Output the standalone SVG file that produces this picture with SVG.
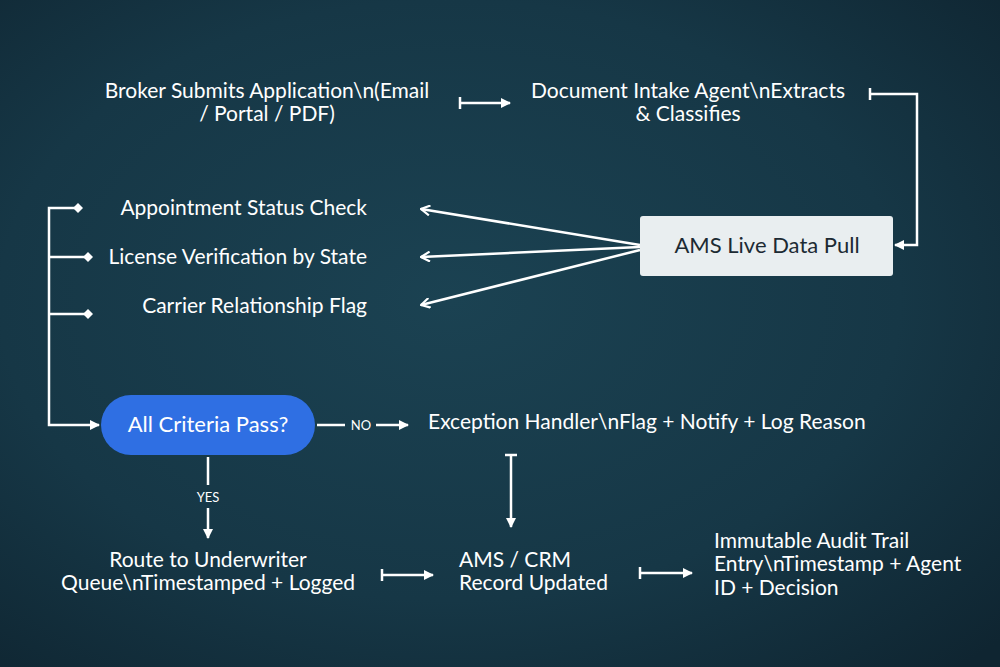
<svg xmlns="http://www.w3.org/2000/svg" width="1000" height="667" viewBox="0 0 1000 667">
<defs>
<radialGradient id="bg" cx="0.45" cy="0.45" r="0.75">
<stop offset="0" stop-color="#1b4252"/>
<stop offset="0.6" stop-color="#163746"/>
<stop offset="1" stop-color="#0f2531"/>
</radialGradient>
<marker id="ah" viewBox="0 0 10 10" refX="9" refY="5" markerWidth="10" markerHeight="10" markerUnits="userSpaceOnUse" orient="auto"><path d="M0,0 L10,5 L0,10 z" fill="#fff"/></marker>
<marker id="oa" viewBox="0 0 10 10" refX="9" refY="5" markerWidth="11" markerHeight="11" markerUnits="userSpaceOnUse" orient="auto"><path d="M1,0.5 L9,5 L1,9.5" fill="none" stroke="#fff" stroke-width="2"/></marker>
<marker id="tee" viewBox="0 0 4 12" refX="2" refY="6" markerWidth="4" markerHeight="12" markerUnits="userSpaceOnUse" orient="auto"><path d="M2,0 L2,12" stroke="#fff" stroke-width="2.5"/></marker>
<marker id="dia" viewBox="0 0 10 10" refX="5" refY="5" markerWidth="10" markerHeight="10" markerUnits="userSpaceOnUse" orient="auto"><path d="M0,5 L5,0 L10,5 L5,10 z" fill="#fff"/></marker>
</defs>
<style>
text{font-family:Lato,"Open Sans","Liberation Sans",sans-serif;fill:#fff;font-size:21px}
.c{text-anchor:middle}.r{text-anchor:end}
.sm{font-size:13px}
.ln{stroke:#fff;stroke-width:2.5;fill:none}
</style>
<rect width="1000" height="667" fill="url(#bg)"/>
<g id="connectors">
<path class="ln" d="M460,103 H510" marker-start="url(#tee)" marker-end="url(#ah)"/>
<path class="ln" d="M870,94 H917 V245 H895" marker-start="url(#tee)" marker-end="url(#ah)"/>
<path class="ln" d="M640,245 L421,209" marker-end="url(#oa)"/>
<path class="ln" d="M640,247 L421,257" marker-end="url(#oa)"/>
<path class="ln" d="M640,250 L421,305" marker-end="url(#oa)"/>
<path class="ln" d="M78,208 H49 V425 H99" marker-start="url(#dia)" marker-end="url(#ah)"/>
<path class="ln" d="M49,257 H88" marker-end="url(#dia)"/>
<path class="ln" d="M49,314 H88" marker-end="url(#dia)"/>
<path class="ln" d="M317,425 H345"/>
<path class="ln" d="M376,425 H408" marker-end="url(#ah)"/>
<path class="ln" d="M511,455 V527" marker-start="url(#tee)" marker-end="url(#ah)"/>
<path class="ln" d="M208,457 V485"/>
<path class="ln" d="M208,508 V538" marker-end="url(#ah)"/>
<path class="ln" d="M382,575 H433" marker-start="url(#tee)" marker-end="url(#ah)"/>
<path class="ln" d="M640,573 H692" marker-start="url(#tee)" marker-end="url(#ah)"/>
<text class="sm c" x="361" y="430">NO</text>
<text class="sm c" x="208" y="502">YES</text>
</g>
<g id="broker"><text class="c" x="267" y="98">Broker Submits Application\n(Email</text><text class="c" x="267" y="121">/ Portal / PDF)</text></g>
<g id="intake"><text class="c" x="688" y="98">Document Intake Agent\nExtracts</text><text class="c" x="688" y="121">&amp; Classifies</text></g>
<g id="ams"><rect x="640" y="216" width="253" height="60" rx="3" fill="#e9eef0"/><text class="c" x="767" y="253" style="fill:#1c2a33;font-size:22px">AMS Live Data Pull</text></g>
<g id="appt"><text class="r" x="367" y="215">Appointment Status Check</text></g>
<g id="license"><text class="r" x="367" y="264">License Verification by State</text></g>
<g id="carrier"><text class="r" x="367" y="313">Carrier Relationship Flag</text></g>
<g id="decision"><rect x="101" y="395" width="214" height="60" rx="30" fill="#2f6fe3"/><text class="c" x="208" y="432" style="font-size:22px">All Criteria Pass?</text></g>
<g id="exception"><text x="428" y="429">Exception Handler\nFlag + Notify + Log Reason</text></g>
<g id="route"><text class="c" x="208" y="567">Route to Underwriter</text><text class="c" x="208" y="590">Queue\nTimestamped + Logged</text></g>
<g id="crm"><text x="459" y="567">AMS / CRM</text><text x="459" y="590">Record Updated</text></g>
<g id="audit"><text x="714" y="548">Immutable Audit Trail</text><text x="714" y="571">Entry\nTimestamp + Agent</text><text x="714" y="595">ID + Decision</text></g>
</svg>
